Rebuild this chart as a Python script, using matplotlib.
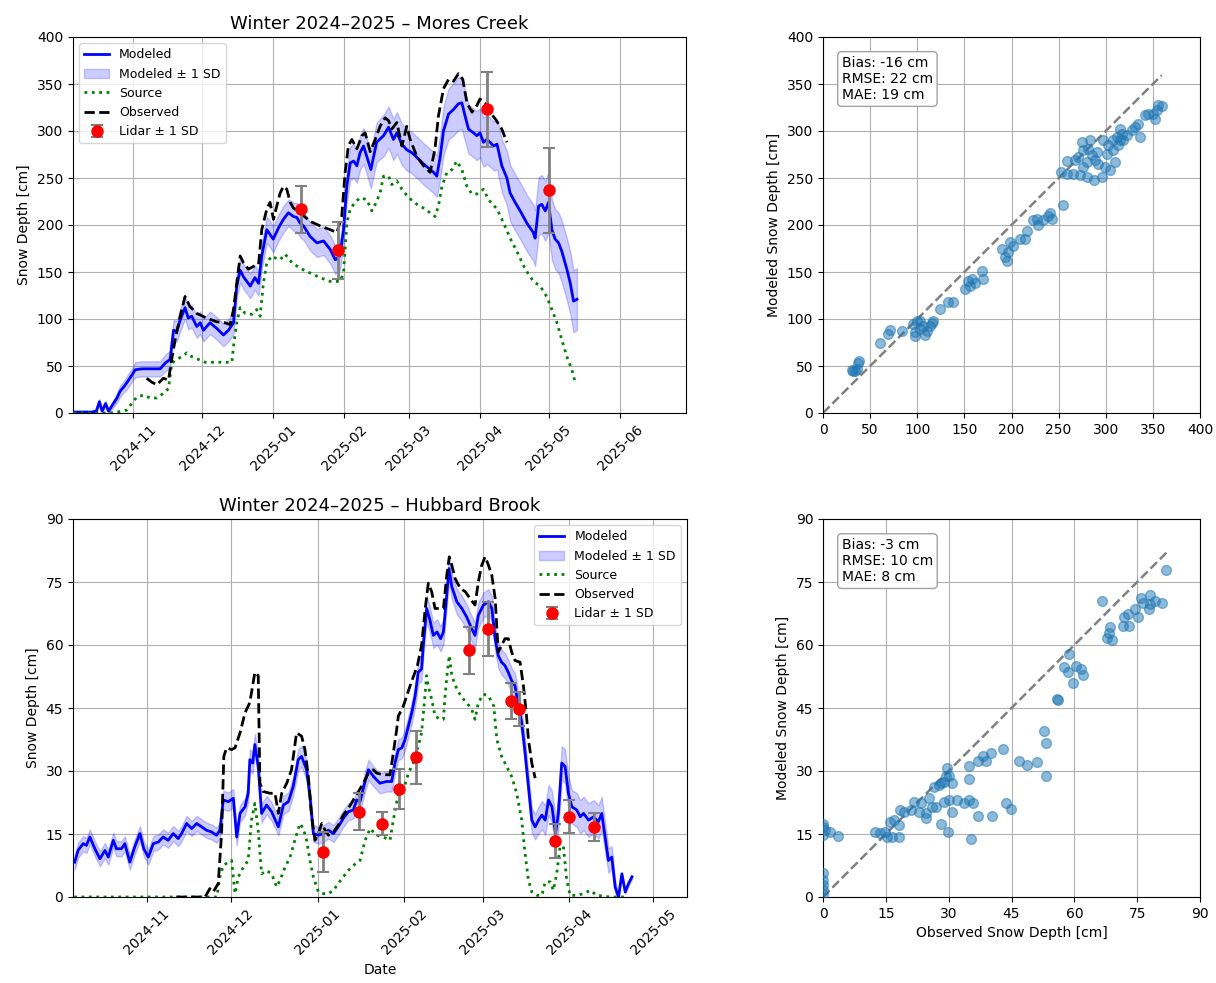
import numpy as np
import pandas as pd
import matplotlib
matplotlib.use("Agg")
import matplotlib.pyplot as plt
import matplotlib.dates as mdates

# ---------------- Mores Creek (days since 2024-11-01) ----------------
mc_model_day = [-26, -22, -18, -16, -14.7, -13.5, -12, -10.7, -8.6, -7,
                -5.7, -4, -2.8, -0.6, 0.9, 3.8, 7.4, 11.8, 13.9, 16.1,
                17.6, 19, 20.5, 22.6, 24, 25.5, 27.7, 29.2, 30.6, 32,
                33.5, 36.4, 39.3, 41.5, 43.7, 45.1, 46.6, 48, 51, 53,
                54.6, 56, 58.2, 59.6, 61, 63.3, 65.4, 67.6, 69.8, 71.3,
                72.7, 74.2, 77, 80, 82.9, 85.8, 88, 90, 91.6, 93,
                94.5, 96, 97.4, 98.8, 100.3, 101.7, 103.5, 106, 109, 111.2,
                113.3, 114.8, 117, 119.1, 121.3, 123.5, 126.4, 129.3, 130.8, 132.2,
                133.7, 135.1, 137.3, 139.5, 141.6, 143.1, 144.5, 146, 148.2, 149.6,
                151, 152.5, 154, 155.4, 156.9, 158.4, 160.5, 162.7, 164.1, 166.3,
                168.5, 171.4, 174.2, 175, 176.5, 177.9, 179.4, 180.8, 182.3, 183.7,
                185.2, 186.6, 188.8, 190.3, 191.7, 193.2]
mc_model = [1, 1, 1, 2, 12, 2, 10, 2, 10, 16,
            23, 28, 32, 40, 46, 47, 47, 47, 53, 57,
            88, 87, 99, 112, 101, 103, 92, 96, 88, 92,
            96, 90, 83, 88, 96, 135, 152, 145, 135, 144,
            138, 167, 195, 190, 185, 197, 206, 213, 209, 208,
            202, 199, 188, 181, 183, 174, 163, 167, 195, 241,
            266, 268, 263, 277, 284, 273, 259, 288, 295, 304,
            291, 298, 286, 280, 277, 272, 265, 259, 256, 252,
            273, 300, 318, 323, 329, 330, 316, 302, 298, 295,
            298, 288, 291, 288, 284, 286, 263, 250, 234, 224,
            215, 202, 192, 186, 220, 222, 215, 224, 195, 185,
            181, 172, 153, 138, 119, 121]
mc_model_sd = [1, 1, 1, 2, 3, 2, 3, 2, 4, 5,
               6, 6, 7, 7, 8, 8, 8, 8, 9, 9,
               11, 11, 12, 12, 12, 12, 12, 12, 12, 12,
               12, 12, 12, 12, 12, 13, 13, 13, 13, 13,
               13, 14, 14, 14, 14, 14, 14, 14, 15, 15,
               15, 15, 15, 15, 15, 15, 15, 15, 16, 17,
               18, 18, 18, 18, 19, 19, 20, 21, 22, 22,
               22, 22, 22, 22, 22, 22, 22, 22, 22, 22,
               24, 26, 27, 28, 28, 28, 27, 26, 26, 26,
               26, 26, 26, 26, 26, 27, 28, 29, 30, 30,
               30, 30, 30, 30, 31, 31, 32, 32, 32, 32,
               32, 33, 33, 33, 33, 33]

mc_obs_day = [5.9, 8, 10.3, 13.2, 15.4, 16.8, 18.3, 20.5, 22.6, 24.8,
              27.7, 32, 36.4, 40, 42.2, 43.7, 45.1, 46.6, 48, 50.2,
              52.4, 54.6, 56, 58.2, 59.6, 61.1, 62.5, 64, 65.4, 66.9,
              68.4, 69.8, 72.7, 77, 81.4, 85.8, 88.7, 90.8, 92.3, 93.7,
              95.2, 97.4, 99.6, 101, 103.2, 105.4, 107.5, 109.7, 111.2, 112.6,
              114.8, 117, 119.1, 120.6, 123.5, 126.4, 129.3, 131.4, 132.9, 135.1,
              137.3, 139.5, 141.6, 143.5, 145.3, 147.5, 149.6, 151, 153.2, 155.4,
              157.6, 160.5, 162.7]
mc_obs = [37, 33, 30, 37, 35, 57, 78, 103, 124, 113,
          106, 101, 97, 96, 94, 110, 138, 167, 160, 153,
          156, 158, 195, 217, 224, 206, 220, 234, 241, 238,
          224, 218, 213, 204, 199, 195, 192, 209, 256, 284,
          291, 281, 295, 298, 278, 291, 305, 314, 311, 302,
          309, 284, 305, 291, 273, 263, 256, 281, 316, 345,
          355, 353, 361, 355, 330, 320, 327, 334, 330, 320,
          313, 302, 288]

mc_src_day = [-26, -10, -7, -2.8, -0.6, 1.6, 4.5, 7.4, 10.3, 13.2,
              15.4, 16.8, 19, 21.2, 23.4, 25.5, 28.4, 31.3, 35, 39.3,
              43, 43.7, 45.1, 46.6, 48.8, 51.7, 53.8, 55.3, 56.7, 58.2,
              60.4, 61.8, 64, 66.2, 69.1, 72.7, 77, 81.4, 85.8, 90.1,
              91.6, 93, 94.5, 96.6, 98.8, 101.7, 103.9, 105.4, 107.5, 109,
              111.2, 112.6, 114.8, 117, 120, 123.5, 127.1, 131.4, 132.9, 134.4,
              136.6, 138.8, 140.9, 143.1, 145.3, 147.5, 149.6, 152.5, 154.7, 158.4,
              161.3, 164.1, 167, 170.7, 174.2, 177.2, 180, 182.3, 184.5, 186.6,
              188.8, 191, 192.5]
mc_src = [0, 0, 1, 3, 10, 17, 19, 16, 16, 21,
          26, 53, 57, 60, 64, 60, 57, 54, 54, 54,
          54, 71, 96, 112, 106, 105, 110, 103, 138, 160,
          167, 165, 163, 169, 160, 154, 149, 144, 140, 140,
          149, 202, 217, 224, 229, 227, 215, 222, 234, 252,
          252, 243, 247, 238, 229, 222, 217, 209, 220, 241,
          256, 259, 268, 259, 241, 233, 233, 238, 227, 217,
          202, 186, 172, 153, 140, 135, 124, 110, 96, 78,
          60, 46, 32]

mc_lidar_day = [73.1, 89.4, 154, 181.1]
mc_lidar = [216.5, 173, 323, 237]
mc_lidar_sd = [24.5, 30, 40, 45]

mc_sc_obs = [32.2, 35.7, 37.5, 38.5, 34.0, 30.4, 60.5, 69.3, 71.0, 83.5,
             95.8, 97.6, 99.4, 103.0, 106.5, 110.0, 113.5, 117.0, 97.6, 103.0,
             108.0, 115.3, 124.0, 133.0, 137.6, 150.7, 154.2, 157.7, 161.3, 168.3,
             170.0, 156.0, 189.6, 193.0, 194.9, 196.6, 198.4, 202.0, 209.0, 214.3,
             216.1, 223.2, 226.7, 228.5, 233.8, 239.0, 242.6, 241.0, 255.0, 253.0,
             258.5, 265.6, 267.4, 271.0, 274.4, 276.2, 279.7, 283.3, 285.0, 287.7,
             290.4, 292.1, 295.7, 297.4, 299.2, 302.7, 304.5, 308.0, 309.8, 311.6,
             313.3, 316.9, 318.7, 322.2, 327.5, 331.1, 334.6, 336.3, 341.6, 345.2,
             352.2, 354.0, 355.8, 359.3, 258.5, 281.5, 276.2, 288.6, 301.0, 279.7,
             308.0, 315.0, 315.0, 350.5, 272.7]
mc_sc_mod = [44.8, 46.6, 53.7, 55.5, 44.8, 45.5, 75.0, 83.9, 88.2, 87.5,
             94.6, 85.7, 98.1, 89.2, 92.8, 87.5, 92.8, 98.1, 82.1, 98.1,
             83.2, 95.3, 110.6, 117.7, 117.7, 131.9, 140.8, 142.6, 138.0, 150.8,
             142.6, 135.5, 174.6, 165.7, 162.1, 171.0, 181.7, 178.1, 185.2, 185.2,
             194.1, 204.8, 206.6, 199.5, 204.8, 210.1, 206.6, 212.6, 220.8, 256.4,
             268.1, 254.6, 268.8, 272.4, 288.4, 261.7, 267.0, 290.1, 274.0, 247.5,
             277.7, 265.2, 251.0, 290.1, 261.7, 284.8, 258.1, 290.1, 267.0, 293.7,
             284.8, 297.2, 290.1, 295.5, 300.8, 304.4, 307.9, 293.7, 316.8, 318.6,
             313.2, 322.1, 327.5, 326.4, 254.6, 281.2, 279.5, 269.5, 275.9, 251.0,
             279.5, 290.1, 302.6, 318.6, 252.8]
mc_stats = "Bias: -16 cm\nRMSE: 22 cm\nMAE: 19 cm"

# ---------------- Hubbard Brook (days since 2024-11-01) ----------------
hb_model_day = [-25.8, -24.6, -22.8, -21.6, -20.4, -18.6, -16.8, -15, -13.8, -12,
                -10.9, -9.1, -7.9, -6.1, -4.3, -2.5, -1.1, 0.5, 2.3, 4.1,
                5.8, 7.6, 9.4, 11.2, 12.4, 14.2, 16, 17.8, 19.6, 21.3,
                23.1, 24.9, 26.1, 27.3, 29.1, 30.9, 32.1, 33.3, 35.1, 36.2,
                36.8, 37.8, 38.6, 39.8, 41, 42.8, 44.6, 47, 48.8, 50.6,
                52.3, 54.1, 55.3, 57.1, 58.3, 59.5, 61.3, 63.1, 64.9, 66.7,
                68.4, 70.2, 72, 73.8, 75, 76.2, 78, 79.2, 81, 83.3,
                85.7, 87.5, 88.7, 89.9, 91.1, 92.3, 93.5, 94.7, 95.9, 97,
                98.2, 98.8, 100, 101.2, 102.4, 103.7, 105, 106, 107.2, 108,
                109, 110.8, 112.6, 114.3, 116.1, 117.3, 118.5, 120.3, 122.1, 123.3,
                124.5, 125.6, 126.8, 128, 129.2, 130.4, 131.6, 132.8, 134, 135.2,
                136.4, 137.6, 138.8, 140, 141.2, 142.4, 143.6, 144.8, 146.1, 147.1,
                148.3, 149.5, 150.7, 151.9, 153.7, 154.9, 156.1, 157.9, 159.7, 161.4,
                162.6, 163.8, 165, 166.2, 167.4, 168.6, 169.8, 171, 172.2, 173.4]
hb_model = [8.3, 11.1, 12.7, 12.3, 14.3, 11.5, 9.1, 11.1, 9.5, 13.5,
            11.5, 11.5, 12.7, 8.3, 12.0, 15.1, 11.5, 9.5, 12.7, 13.1,
            14.3, 13.5, 15.1, 13.9, 15.1, 17.5, 16.3, 17.5, 16.7, 15.9,
            15.5, 14.7, 15.9, 23.1, 22.7, 23.5, 14.3, 19.9, 21.5, 24.7,
            32.7, 31.9, 36.3, 31.1, 19.9, 21.9, 20.3, 16.7, 21.9, 22.7,
            26.3, 32.7, 33.5, 30.3, 23.9, 15.1, 14.7, 15.1, 15.9, 15.1,
            16.7, 18.7, 20.3, 20.7, 23.1, 22.7, 27.5, 30.3, 28.7, 27.1,
            27.5, 27.5, 31.9, 35.1, 35.5, 37.5, 40.7, 43.9, 47.9, 53.5,
            54.3, 59.9, 68.7, 65.9, 62.3, 63.1, 61.5, 63.1, 71.9, 78.2,
            73.9, 70.3, 68.7, 66.7, 63.9, 62.3, 67.1, 69.5, 70.3, 68.7,
            61.5, 57.5, 55.9, 55.1, 53.5, 51.5, 50.3, 45.5, 41.5, 34.3,
            26.3, 18.3, 16.7, 18.3, 19.5, 18.3, 23.1, 21.5, 15.1, 19.9,
            31.9, 31.1, 24.7, 21.5, 20.7, 19.1, 19.9, 18.3, 19.1, 17.9,
            19.9, 14.3, 8.7, 9.5, 2.4, 0.0, 5.5, 1.2, 3.2, 4.8]
hb_model_sd = [1.8, 1.8, 1.8, 1.8, 1.8, 1.8, 1.8, 1.8, 1.8, 1.8,
               1.8, 1.8, 1.8, 1.8, 1.8, 1.8, 1.8, 1.8, 1.8, 1.8,
               1.8, 1.8, 1.8, 1.8, 1.8, 1.8, 1.8, 1.8, 1.8, 1.8,
               1.8, 1.8, 1.8, 2.2, 2.2, 2.2, 2.0, 2.0, 2.0, 2.2,
               2.5, 2.5, 2.6, 2.5, 2.2, 2.2, 2.2, 2.0, 2.2, 2.2,
               2.2, 2.5, 2.5, 2.5, 2.2, 2.0, 2.0, 2.0, 2.0, 2.0,
               2.0, 2.0, 2.0, 2.0, 2.2, 2.2, 2.4, 2.4, 2.4, 2.4,
               2.4, 2.4, 2.5, 2.5, 2.5, 2.5, 2.5, 2.6, 2.6, 2.8,
               2.8, 2.8, 3.0, 3.0, 3.0, 3.0, 3.0, 3.0, 3.0, 3.0,
               3.0, 3.0, 3.0, 3.0, 3.0, 3.0, 3.0, 3.0, 3.0, 3.0,
               3.0, 3.0, 3.0, 3.0, 3.0, 3.0, 3.0, 3.0, 3.0, 3.0,
               3.0, 3.0, 3.0, 3.2, 3.4, 3.5, 3.6, 3.8, 4.0, 4.0,
               4.0, 4.0, 4.0, 4.0, 4.0, 4.0, 4.0, 4.0, 4.0, 4.0,
               4.0, 3.5, 3.0, 2.5, 1.5, 0.5, 0.5, 0.5, 0.5, 0.5]

hb_obs_day = [10.5, 15, 20.8, 22.5, 23.7, 25.5, 26.7, 27.5, 28.5, 30.3,
              31.5, 33.3, 35.1, 36.8, 38.6, 39.8, 40.4, 41.6, 44, 45.8,
              47, 48.2, 50, 51.7, 53.5, 55.3, 56.5, 57.7, 58.9, 60.1,
              61.3, 62.5, 63.7, 64.9, 66.7, 68.4, 70.2, 72, 73.8, 75.6,
              77.4, 79.2, 81, 82.1, 84.5, 86.9, 88.1, 89.3, 89.9, 91.7,
              94.1, 96.7, 98.2, 99.5, 100.6, 101.8, 103, 104.8, 106, 107.2,
              108.1, 109, 110.2, 112, 113.8, 115.5, 117.3, 118.5, 119.7, 120.9,
              122.1, 123.3, 124.5, 125.6, 126.8, 128, 129.2, 130.4, 131.6, 133.4,
              134.6, 135.6, 136.4, 137.6, 138.8]
hb_obs = [0, 0, 0, 2.0, 1.2, 3.2, 15.1, 33.5, 35.5, 35.1,
          35.5, 39.1, 43.9, 46.3, 53.5, 52.7, 27.1, 25.1, 24.7, 24.7,
          19.9, 24.7, 27.1, 30.3, 39.1, 38.3, 35.1, 28.7, 19.1, 13.5,
          15.1, 17.5, 15.9, 14.7, 15.5, 17.1, 19.5, 21.1, 23.1, 25.1,
          27.1, 29.5, 30.3, 29.5, 29.1, 29.1, 34.3, 39.9, 43.1, 45.5,
          50.3, 55.1, 59.9, 68.7, 74.7, 72.7, 68.7, 68.7, 68.7, 76.6,
          81.0, 79.0, 75.8, 73.5, 72.7, 71.1, 69.5, 75.1, 79.0, 81.0,
          79.0, 76.6, 71.1, 58.3, 59.9, 61.5, 61.5, 58.3, 56.3, 55.9,
          50.3, 43.9, 37.5, 31.9, 28.3]

hb_src_day = [-26, -10, 5, 15, 25, 26.1, 27.3, 29.1, 30.3, 31.5,
              32.7, 34.5, 36.2, 37.4, 38.6, 39.8, 41, 42.8, 44.6, 46.4,
              47.6, 49.4, 51.2, 52.9, 54.7, 55.9, 57.1, 58.3, 59.5, 61.3,
              63.1, 64.9, 66.7, 68.4, 70.2, 72, 73.8, 76.2, 78, 79.8,
              82.1, 84.5, 86.9, 88.1, 89.9, 91.7, 93.5, 95.2, 97, 98.2,
              99.4, 100, 100.6, 101.8, 103, 104.8, 106, 106.6, 107.4, 108.1,
              109, 110.8, 112.6, 114.3, 116.1, 117.3, 118.5, 120.3, 122.1, 124,
              125.1, 126.8, 128.6, 130.4, 132.2, 134, 135.2, 136.4, 137.6, 139.4,
              141.2, 142.4, 144.2, 145.3, 146.5, 147.7, 148.9, 150.1, 151.3, 153.7,
              156.1, 158.5, 160.8, 165.6, 171]
hb_src = [0, 0, 0, 0, 0, 4.8, 7.5, 8.3, 8.7, 0.8,
          4.8, 7.1, 8.7, 18.3, 22.3, 15.9, 5.5, 6.3, 5.5, 2.4,
          4.0, 7.1, 9.5, 13.5, 17.5, 16.3, 13.5, 8.7, 4.8, 1.2,
          0.8, 0.8, 1.6, 3.2, 4.8, 6.3, 7.5, 8.7, 13.5, 16.3,
          14.7, 14.3, 13.5, 18.3, 24.7, 25.5, 29.5, 31.9, 35.9, 39.1,
          47.9, 52.7, 50.3, 47.1, 43.1, 42.3, 42.3, 47.9, 53.5, 57.5,
          52.7, 49.5, 47.5, 46.3, 44.7, 42.3, 46.3, 48.3, 47.9, 45.5,
          37.5, 33.5, 31.1, 28.7, 24.7, 18.3, 10.3, 4.0, 1.2, 0.4,
          0.4, 3.6, 3.6, 1.6, 5.5, 12.0, 12.0, 4.0, 0.4, 0.4,
          0.8, 1.6, 0.4, 0.0, 0.0]

hb_lidar_day = [63.1, 76, 84.2, 90.1, 96.1, 115, 121.9, 130.1, 133.2, 146, 150.9, 160]
hb_lidar = [10.7, 20.3, 17.5, 25.7, 33.3, 58.8, 63.8, 46.6, 44.8, 13.4, 19.1, 16.7]
hb_lidar_sd = [4.8, 4.4, 2.8, 4.7, 6.3, 5.6, 6.4, 4.3, 4.0, 4.0, 3.9, 3.4]

hb_sc_obs = [0.1, 0.1, 0.5, 0.1, 1.7, 3.7, 0.1, 0.1, 0.1, 0.1,
             0.1, 12.5, 13.7, 14.9, 15.3, 16.5, 18.1, 16.1, 16.9, 18.1,
             18.5, 19.3, 20.9, 21.7, 22.9, 23.3, 24.5, 24.5, 25.3, 26.1,
             26.9, 26.5, 27.7, 28.1, 28.9, 29.3, 29.7, 30.1, 30.9, 28.9,
             30.1, 32.1, 33.7, 34.9, 35.7, 30.9, 28.1, 29.9, 35.3, 36.9,
             40.3, 34.9, 34.9, 36.9, 38.1, 38.9, 40.1, 42.9, 43.8, 44.8,
             46.9, 48.8, 51.2, 52.8, 53.2, 53.2, 55.8, 56.0, 57.6, 58.8,
             58.4, 59.8, 60.3, 61.6, 62.0, 66.7, 67.8, 68.4, 69.1, 68.3,
             71.6, 71.8, 73.0, 72.8, 74.4, 75.2, 76.0, 76.4, 78.0, 77.8,
             79.2, 81.0, 82.0, 78.0]
hb_sc_mod = [17.5, 16.7, 15.9, 14.7, 15.5, 14.5, 5.6, 4.0, 2.8, 1.6,
             0.8, 15.5, 15.2, 15.5, 14.3, 14.3, 14.3, 17.9, 18.3, 17.1,
             20.7, 20.3, 20.7, 22.7, 20.3, 22.3, 19.9, 18.7, 23.5, 21.5,
             21.5, 26.3, 26.7, 27.1, 27.5, 28.7, 30.7, 28.7, 27.1, 22.7,
             23.1, 23.1, 22.3, 23.1, 22.3, 20.3, 17.5, 15.5, 13.9, 19.3,
             19.3, 28.2, 31.1, 32.5, 33.5, 32.5, 34.3, 35.3, 22.3, 20.9,
             32.5, 31.5, 32.1, 39.5, 36.7, 28.9, 47.1, 47.0, 54.7, 57.9,
             53.6, 50.9, 55.1, 54.3, 52.8, 70.5, 61.6, 64.3, 61.1, 62.9,
             64.5, 66.6, 64.6, 67.4, 68.6, 66.6, 71.1, 69.9, 72.0, 68.6,
             70.4, 69.9, 77.8, 69.8]
hb_stats = "Bias: -3 cm\nRMSE: 10 cm\nMAE: 8 cm"

BASE = pd.Timestamp("2024-11-01")


def to_dates(days):
    return BASE + pd.to_timedelta(np.asarray(days, dtype=float), unit="D")


def draw_ts(ax, title, mday, mval, msd, sday, sval, oday, oval, lday, lval, lsd,
            xlim, ylim, yticks, legend_loc):
    md = to_dates(mday)
    mv = np.asarray(mval, float)
    sd = np.asarray(msd, float)
    ax.plot(md, mv, color="blue", lw=2, label="Modeled", zorder=3)
    ax.fill_between(md, mv - sd, mv + sd, color="blue", alpha=0.2,
                    label="Modeled ± 1 SD", zorder=2)
    ax.plot(to_dates(sday), sval, color="green", ls=":", lw=2, label="Source", zorder=3)
    ax.plot(to_dates(oday), oval, color="black", ls="--", lw=2, label="Observed", zorder=4)
    ax.errorbar(to_dates(lday), lval, yerr=lsd, fmt="o", color="red", ecolor="gray",
                elinewidth=2, capsize=4, capthick=1.5, markersize=8,
                label="Lidar ± 1 SD", zorder=5)
    ax.set_xlim(pd.Timestamp(xlim[0]), pd.Timestamp(xlim[1]))
    ax.set_ylim(*ylim)
    ax.set_yticks(yticks)
    ax.xaxis.set_major_locator(mdates.MonthLocator())
    ax.xaxis.set_major_formatter(mdates.DateFormatter("%Y-%m"))
    ax.tick_params(axis="x", rotation=45)
    ax.tick_params(labelsize=10)
    ax.set_ylabel("Snow Depth [cm]", fontsize=10)
    ax.set_title(title, fontsize=13)
    ax.grid(True)
    ax.legend(loc=legend_loc, fontsize=9)


def draw_sc(ax, obs, mod, stats, lim, ticks):
    ax.scatter(obs, mod, s=50, color="tab:blue", alpha=0.5, zorder=3)
    mx = max(obs)
    ax.plot([0, mx], [0, mx], ls="--", color="gray", lw=1.8, zorder=2)
    ax.set_xlim(0, lim)
    ax.set_ylim(0, lim)
    ax.set_xticks(ticks)
    ax.set_yticks(ticks)
    ax.tick_params(labelsize=10)
    ax.set_ylabel("Modeled Snow Depth [cm]", fontsize=10)
    ax.grid(True)
    ax.text(0.05, 0.95, stats, transform=ax.transAxes, va="top", ha="left", fontsize=10,
            bbox=dict(boxstyle="round", facecolor="white", edgecolor="0.6", alpha=0.9))


W, H = 1216, 983
fig = plt.figure(figsize=(W / 100, H / 100), dpi=100)


def box(l, r, t, b):
    return [l / W, 1 - b / H, (r - l) / W, (b - t) / H]


ax1 = fig.add_axes(box(73, 686, 37, 413))
ax2 = fig.add_axes(box(823, 1200, 37, 413))
ax3 = fig.add_axes(box(73, 687, 519, 897))
ax4 = fig.add_axes(box(823, 1200, 519, 897))

draw_ts(ax1, "Winter 2024–2025 – Mores Creek", mc_model_day, mc_model, mc_model_sd,
        mc_src_day, mc_src, mc_obs_day, mc_obs, mc_lidar_day, mc_lidar, mc_lidar_sd,
        ("2024-10-05 20:00", "2025-06-29 16:00"), (0, 400), np.arange(0, 401, 50), "upper left")
draw_ts(ax3, "Winter 2024–2025 – Hubbard Brook", hb_model_day, hb_model, hb_model_sd,
        hb_src_day, hb_src, hb_obs_day, hb_obs, hb_lidar_day, hb_lidar, hb_lidar_sd,
        ("2024-10-05 14:00", "2025-05-13 02:00"), (0, 90), np.arange(0, 91, 15), "upper right")
ax3.set_xlabel("Date", fontsize=10)

draw_sc(ax2, mc_sc_obs, mc_sc_mod, mc_stats, 400, np.arange(0, 401, 50))
draw_sc(ax4, hb_sc_obs, hb_sc_mod, hb_stats, 90, np.arange(0, 91, 15))
ax4.set_xlabel("Observed Snow Depth [cm]", fontsize=10)

fig.savefig("out.png", dpi=100)
